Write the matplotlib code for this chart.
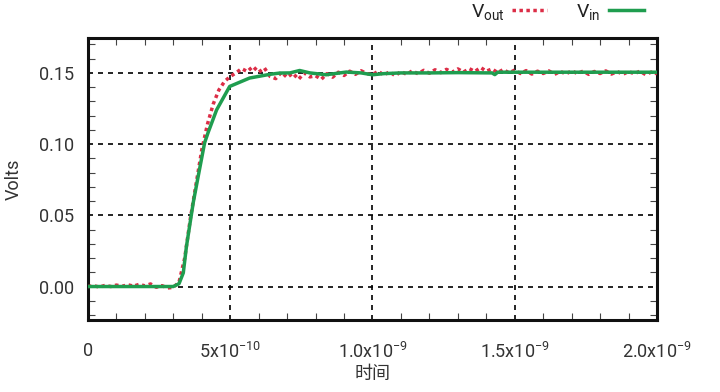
import numpy as np
import matplotlib
matplotlib.use("Agg")
import matplotlib.pyplot as plt
from matplotlib.ticker import MultipleLocator

plt.rcParams['font.family'] = ['Roboto', 'Noto Sans CJK SC', 'DejaVu Sans']
plt.rcParams['mathtext.fontset'] = 'custom'
plt.rcParams['mathtext.rm'] = 'Roboto'
plt.rcParams['mathtext.it'] = 'Roboto'

# time in units of 1e-10 s
t_in = [0, 1, 2, 3, 3.2, 3.35, 3.46, 3.7, 3.87, 4.1, 4.22, 4.52, 4.98, 5.68,
        6.39, 6.74, 7.1, 7.44, 7.8, 8.37, 9.08, 9.6, 10.0, 10.4, 11, 12, 13,
        14.2, 14.3, 14.4, 16, 18, 20]
v_in = [0.0, 0.0, 0.0, 0.0, 0.002, 0.0096, 0.028, 0.059, 0.077, 0.101, 0.108,
        0.124, 0.1405, 0.1464, 0.149, 0.1499, 0.150, 0.1517, 0.1500, 0.1487,
        0.1506, 0.150, 0.1487, 0.1495, 0.150, 0.150, 0.1502, 0.150, 0.1488,
        0.1505, 0.1505, 0.1505, 0.1505]

t_out = [0.0, 0.2, 0.4, 0.6, 0.8, 1.0, 1.2, 1.4, 1.6, 1.8, 2.0, 2.2, 2.4, 2.6,
         2.8, 3.0, 3.2, 3.4, 3.6, 3.8, 4.0, 4.2, 4.4, 4.6, 4.8, 5.0, 5.2, 5.4,
         5.6, 5.8, 6.0, 6.2, 6.4, 6.6, 6.8, 7.0, 7.2, 7.4, 7.6, 7.8, 8.0, 8.2,
         8.4, 8.6, 8.8, 9.0, 9.2, 9.4, 9.6, 9.8, 10.0, 10.2, 10.4, 10.6, 10.8,
         11.0, 11.2, 11.4, 11.6, 11.8, 12.0, 12.2, 12.4, 12.6, 12.8, 13.0, 13.2,
         13.4, 13.6, 13.8, 14.0, 14.2, 14.4, 14.6, 14.8, 15.0, 15.2, 15.4, 15.6,
         15.8, 16.0, 16.2, 16.4, 16.6, 16.8, 17.0, 17.2, 17.4, 17.6, 17.8, 18.0,
         18.2, 18.4, 18.6, 18.8, 19.0, 19.2, 19.4, 19.6, 19.8, 20.0]
v_out = [0.0000, 0.0006, -0.0004, 0.0008, 0.0000, 0.0010, 0.0002, 0.0012,
         0.0003, 0.0015, 0.0005, 0.0018, -0.0005, 0.0006, -0.0010, -0.0006,
         0.0030, 0.0200, 0.0480, 0.0720, 0.0960, 0.1140, 0.1280, 0.1380,
         0.1440, 0.1475, 0.1500, 0.1530, 0.1510, 0.1545, 0.1505, 0.1535,
         0.1475, 0.1460, 0.1505, 0.1468, 0.1498, 0.1455, 0.1500, 0.1472,
         0.1480, 0.1455, 0.1495, 0.1470, 0.1505, 0.1482, 0.1512, 0.1490,
         0.1515, 0.1495, 0.1488, 0.1512, 0.1485, 0.1508, 0.1480, 0.1510,
         0.1490, 0.1515, 0.1494, 0.1518, 0.1498, 0.1522, 0.1502, 0.1525,
         0.1505, 0.1528, 0.1506, 0.1530, 0.1510, 0.1538, 0.1512, 0.1528,
         0.1502, 0.1524, 0.1500, 0.1520, 0.1496, 0.1516, 0.1492, 0.1512,
         0.1496, 0.1514, 0.1490, 0.1510, 0.1493, 0.1514, 0.1496, 0.1512,
         0.1490, 0.1510, 0.1496, 0.1514, 0.1492, 0.1510, 0.1490, 0.1510,
         0.1494, 0.1512, 0.1488, 0.1506, 0.1494]

xticks = [0, 5e-10, 1.0e-9, 1.5e-9, 2.0e-9]
xticklabels = ['0', r'5x10$^{-10}$', r'1.0x10$^{-9}$', r'1.5x10$^{-9}$', r'2.0x10$^{-9}$']
yticks = [0.00, 0.05, 0.10, 0.15]
yticklabels = ['0.00', '0.05', '0.10', '0.15']

fig = plt.figure(figsize=(7.2, 3.92), dpi=100)
ax = fig.add_axes([0.1222, 0.1837, 0.7903, 0.7193])

ax.grid(True, which='major', color='black', linestyle=(0, (3, 3)), linewidth=1.2)
ax.plot(np.array(t_out) * 1e-10, v_out, color='#dc2d46', linestyle=(0, (1, 1)),
        linewidth=2.5, label=r'V$_{\rm out}$', zorder=3)
ax.plot(np.array(t_in) * 1e-10, v_in, color='#1f9d4f', linewidth=2.5,
        label=r'V$_{\rm in}$', zorder=4)

ax.set_xlim(0, 2.0e-9)
ax.set_ylim(-0.0235, 0.1745)
ax.set_xticks(xticks)
ax.set_xticklabels(xticklabels)
ax.set_yticks(yticks)
ax.set_yticklabels(yticklabels)
ax.xaxis.set_minor_locator(MultipleLocator(1e-10))
ax.yaxis.set_minor_locator(MultipleLocator(0.01))
ax.tick_params(which='both', direction='in', top=True, right=True,
               labelsize=13, labelcolor='#333333')
ax.tick_params(which='major', length=0)
ax.tick_params(axis='x', which='major', pad=16)
ax.tick_params(axis='y', which='major', pad=10)
ax.tick_params(which='minor', length=5, width=0.8, color='#444444')
for s in ax.spines.values():
    s.set_linewidth(2.2)
    s.set_color('#111111')

ax.set_xlabel('时间', fontsize=13, family=['Noto Sans CJK SC', 'DejaVu Sans'],
              color='#333333', labelpad=2)
ax.set_ylabel('Volts', fontsize=13, color='#333333', labelpad=12)

ax.legend(loc='lower right', bbox_to_anchor=(0.99, 1.03), ncol=2, frameon=False,
          markerfirst=False, fontsize=14, handlelength=1.8, handletextpad=0.4,
          columnspacing=1.5, borderaxespad=0.0, labelcolor='#222222')

fig.savefig('out.png', dpi=100)
